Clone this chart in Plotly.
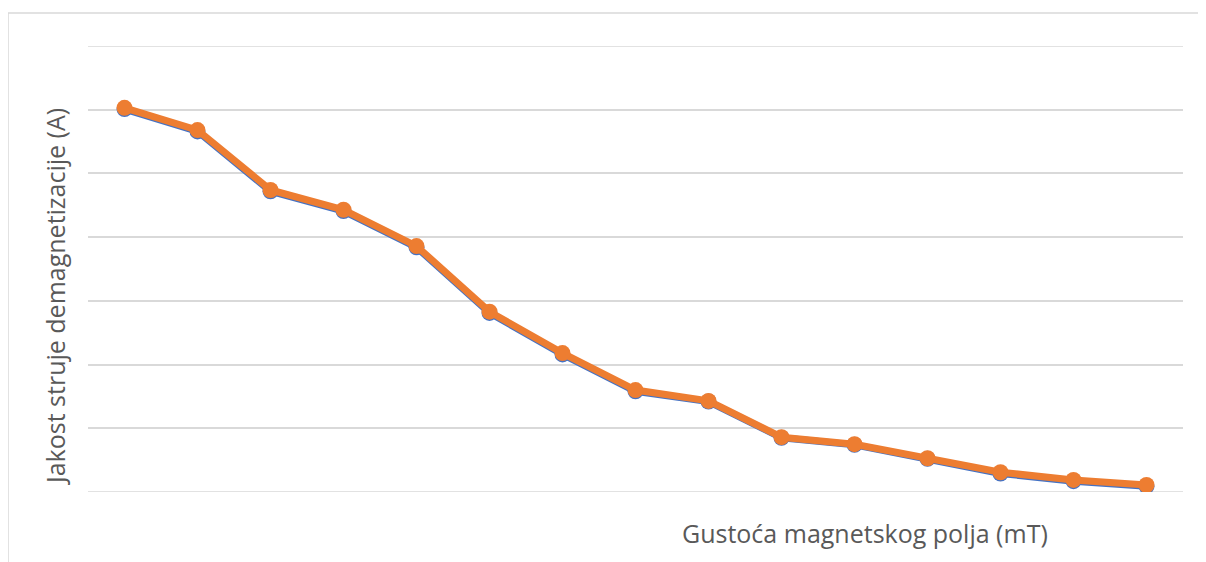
import plotly.graph_objects as go

categories = [str(i) for i in range(1, 16)]
series_orange = [6.03, 5.68, 4.74, 4.43, 3.86, 2.83, 2.18, 1.60, 1.43, 0.86, 0.75, 0.53, 0.31, 0.19, 0.11]
series_blue = [6.01, 5.66, 4.72, 4.41, 3.84, 2.81, 2.16, 1.58, 1.42, 0.85, 0.74, 0.52, 0.29, 0.17, 0.09]

x_title = "Gustoća magnetskog polja (mT)"
y_title = "Jakost struje demagnetizacije (A)"

# page body has an 8px margin; work in screen pixels and convert
OFF = 8
W, H = 1206 - OFF, 562 - OFF
PL, PR, PT, PB = 88, 1183, 46, 492  # plot area in screen px
L = PL - OFF
T = PT - OFF
R = 1206 - PR
B = 562 - PB
pw, ph = PR - PL, PB - PT

def px(x):
    return (x - PL) / pw

def py(y):
    return (PB - y) / ph

fig = go.Figure()
fig.add_trace(go.Scatter(x=categories, y=series_blue, mode="lines+markers",
                         line=dict(color="#4472C4", width=7),
                         marker=dict(color="#4472C4", size=16), showlegend=False))
fig.add_trace(go.Scatter(x=categories, y=series_orange, mode="lines+markers",
                         line=dict(color="#ED7D31", width=7),
                         marker=dict(color="#ED7D31", size=16), showlegend=False))

grid = dict(color="#d9d9d9", width=1.5)
fig.update_layout(
    width=W, height=H,
    margin=dict(l=L, r=R, t=T, b=B),
    paper_bgcolor="white", plot_bgcolor="white",
    xaxis=dict(type="category", range=[-0.5, len(categories) - 0.5], showgrid=False,
               showticklabels=False, zeroline=False, showline=False, ticks=""),
    yaxis=dict(range=[0, 7], dtick=1, showgrid=True, gridcolor="#d9d9d9", gridwidth=1.5,
               showticklabels=False, zeroline=False, showline=False, ticks=""),
    font=dict(family="Open Sans, sans-serif", color="#595959"),
    annotations=[
        dict(text=x_title, xref="paper", yref="paper", x=px(865), y=py(533),
             xanchor="center", yanchor="middle", showarrow=False,
             font=dict(size=25, color="#595959")),
        dict(text=y_title, xref="paper", yref="paper", x=px(55), y=py(297),
             xanchor="center", yanchor="middle", showarrow=False, textangle=-90,
             font=dict(size=25, color="#595959")),
    ],
    shapes=[
        dict(type="line", xref="paper", yref="y", x0=0, x1=1, y0=0, y1=0, layer="below", line=grid),
        dict(type="line", xref="paper", yref="y", x0=0, x1=1, y0=7, y1=7, layer="below", line=grid),
        dict(type="line", xref="paper", yref="paper", x0=px(8), x1=px(1215), y0=py(13), y1=py(13),
             line=grid),
        dict(type="line", xref="paper", yref="paper", x0=px(8), x1=px(8), y0=py(13), y1=py(575),
             line=grid),
    ],
)

fig.write_html("out.html")
